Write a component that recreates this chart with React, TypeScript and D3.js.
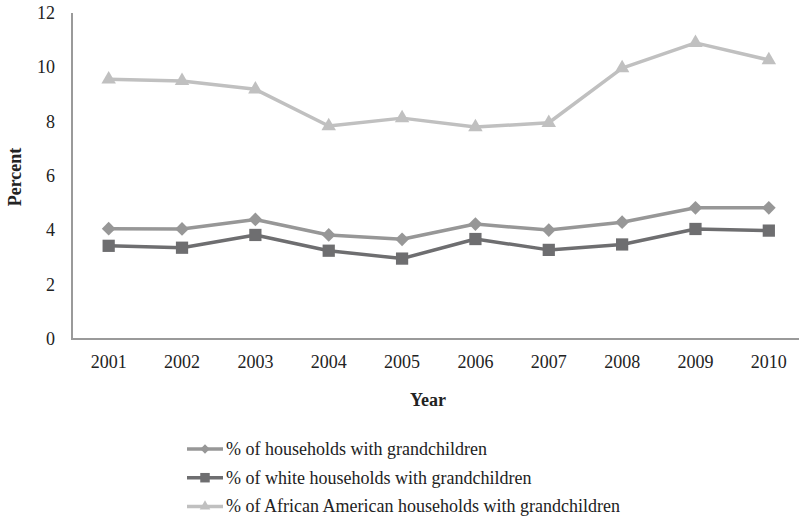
import React from "react";
import * as d3 from "d3";

const years = ["2001","2002","2003","2004","2005","2006","2007","2008","2009","2010"];
const allHouseholds = [4.06,4.05,4.4,3.83,3.67,4.23,4.01,4.3,4.83,4.83];
const whiteHouseholds = [3.43,3.36,3.83,3.25,2.96,3.68,3.28,3.48,4.05,3.99];
const africanAmerican = [9.56,9.5,9.19,7.84,8.13,7.8,7.96,9.97,10.9,10.27];
const yTicks = [0,2,4,6,8,10,12];
const seriesNames = [
  "% of households with grandchildren",
  "% of white households with grandchildren",
  "% of African American households with grandchildren",
];

const W = 799, H = 520;
const FONT = "'Times New Roman', 'Liberation Serif', serif";

export default function App() {
  const x = d3.scaleBand<string>().domain(years).range([72, 805.5]);
  const y = d3.scaleLinear().domain([0, 12]).range([339, 13]);
  const cx = (yr: string) => (x(yr) as number) + x.bandwidth() / 2;

  const series = [
    { name: seriesNames[0], values: allHouseholds, color: "#979797", shape: "diamond" },
    { name: seriesNames[1], values: whiteHouseholds, color: "#6e6e70", shape: "square" },
    { name: seriesNames[2], values: africanAmerican, color: "#c0c0c0", shape: "triangle" },
  ];

  const line = d3.line<number>().x((_, i) => cx(years[i])).y((v) => y(v));

  const symPath = (shape: string, size: number) => {
    const t = shape === "diamond" ? d3.symbolDiamond2 : shape === "square" ? d3.symbolSquare : d3.symbolTriangle2;
    return d3.symbol().type(t).size(size)() as string;
  };
  const markerSize: Record<string, number> = { diamond: 120, square: 150, triangle: 150 };
  const legendSize: Record<string, number> = { diamond: 55, square: 90, triangle: 80 };

  return (
    <svg width={W} height={H} style={{ position: "absolute", left: 0, top: 0, background: "#fff" }} fontFamily={FONT}>
      <line x1={72} y1={13} x2={72} y2={340} stroke="#9a9a9a" strokeWidth={2} />
      <line x1={71} y1={339} x2={799} y2={339} stroke="#9a9a9a" strokeWidth={2} />
      {yTicks.map((t) => (
        <text key={t} x={55} y={y(t)} textAnchor="end" dominantBaseline="central" fontSize={18} fill="#222">{t}</text>
      ))}
      {years.map((yr) => (
        <text key={yr} x={cx(yr)} y={362} textAnchor="middle" dominantBaseline="central" fontSize={18} fill="#222">{yr}</text>
      ))}
      <text x={428} y={400} textAnchor="middle" dominantBaseline="central" fontSize={18} fontWeight="bold" fill="#222">Year</text>
      <text transform={`translate(15,177) rotate(-90)`} textAnchor="middle" dominantBaseline="central" fontSize={18} fontWeight="bold" fill="#222">Percent</text>

      {series.map((s) => (
        <g key={s.name}>
          <path d={line(s.values) as string} fill="none" stroke={s.color} strokeWidth={3.5} strokeLinejoin="round" />
          {s.values.map((v, i) => (
            <path key={i} d={symPath(s.shape, markerSize[s.shape])} transform={`translate(${cx(years[i])},${y(v)})`} fill={s.color} />
          ))}
        </g>
      ))}

      {series.map((s, i) => {
        const ly = 449 + i * 28.7;
        return (
          <g key={"lg" + i}>
            <line x1={187} x2={223} y1={ly} y2={ly} stroke={s.color} strokeWidth={3.5} />
            <path d={symPath(s.shape, legendSize[s.shape])} transform={`translate(205,${ly})`} fill={s.color} />
            <text x={226} y={ly} dominantBaseline="central" fontSize={18} fill="#222">{s.name}</text>
          </g>
        );
      })}
    </svg>
  );
}
